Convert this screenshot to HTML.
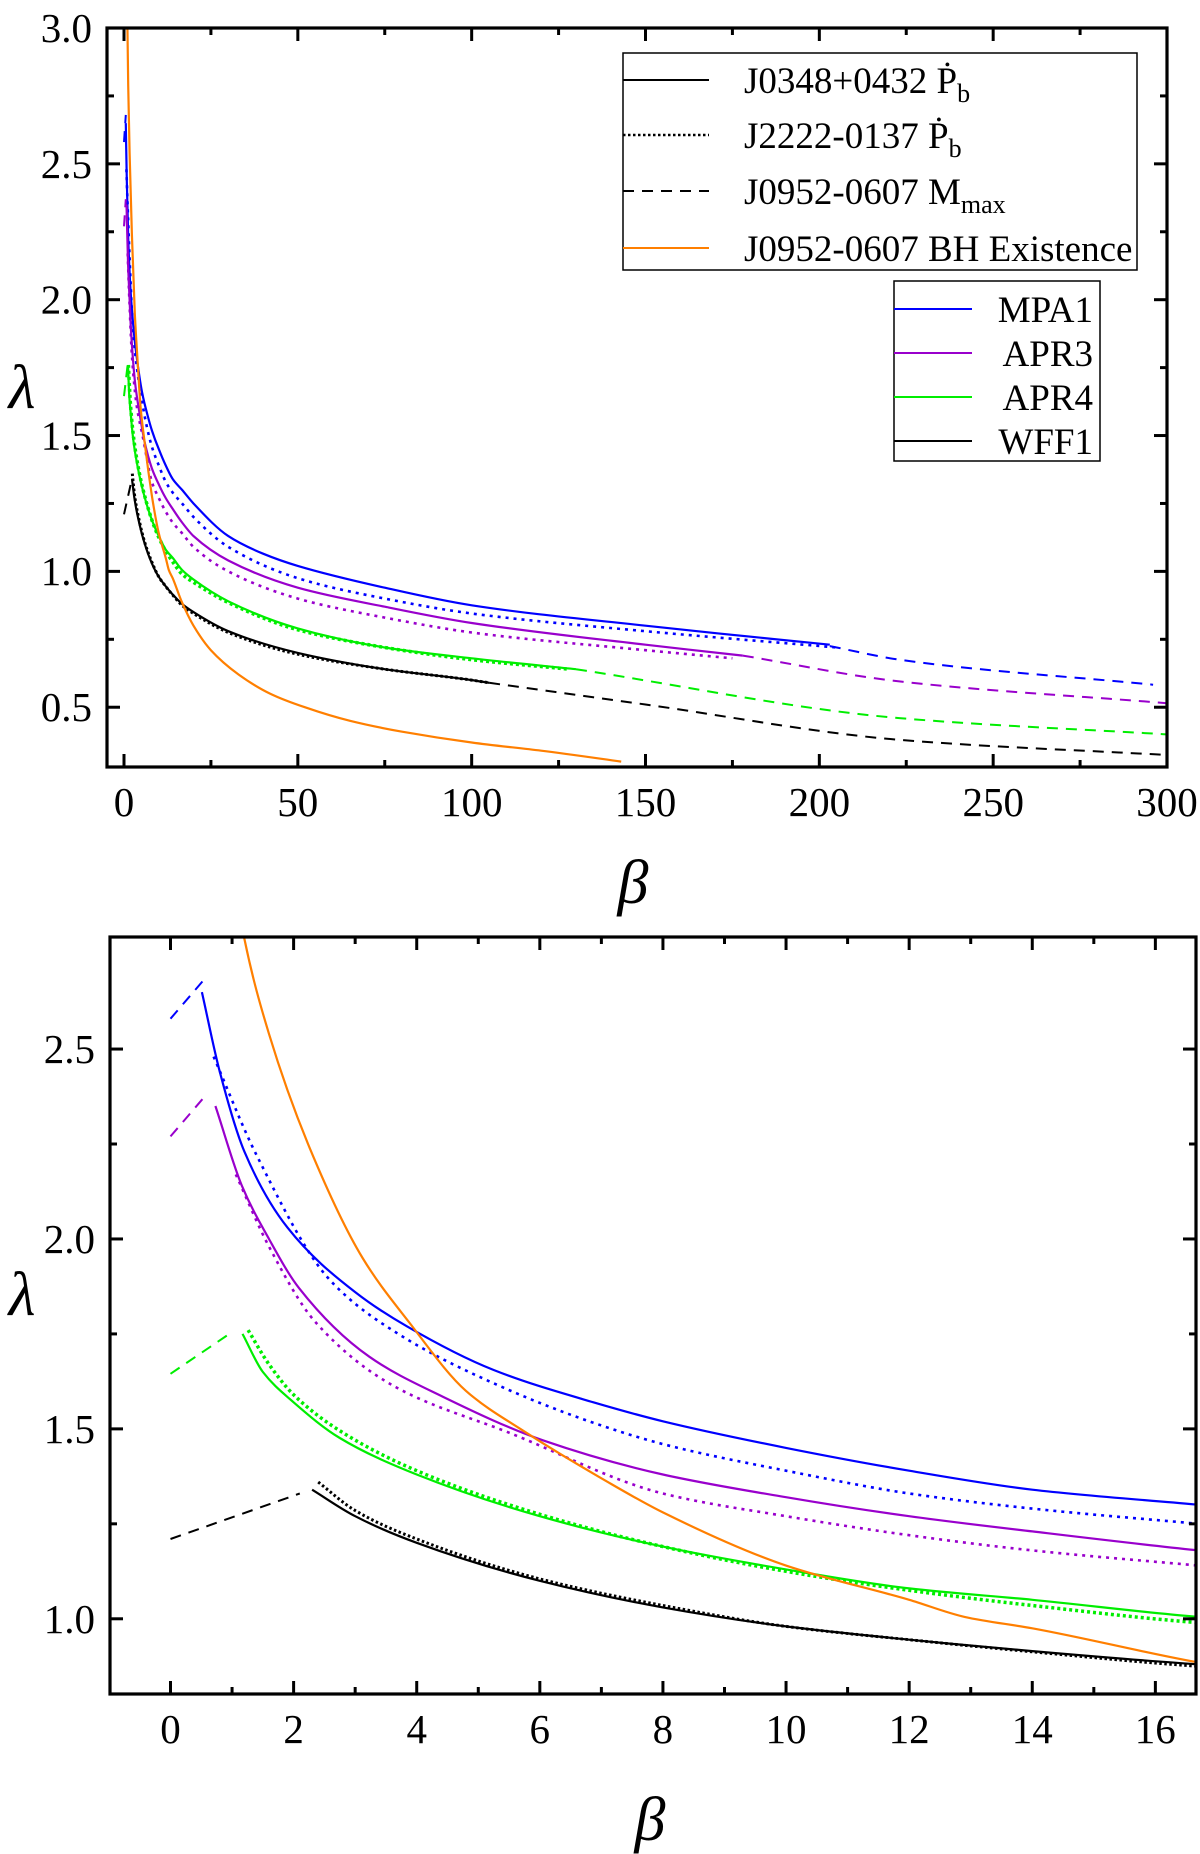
<!DOCTYPE html>
<html><head><meta charset="utf-8">
<style>
html,body{margin:0;padding:0;background:#fff;}
svg{display:block;}
svg text{font-family:"Liberation Serif","Times New Roman",serif !important;}
</style></head>
<body>
<svg id="fig" width="1200" height="1854" viewBox="0 0 1200 1854" xmlns="http://www.w3.org/2000/svg">
<defs>
<clipPath id="clipTop"><rect x="107" y="28" width="1060" height="739"/></clipPath>
<clipPath id="clipBot"><rect x="110" y="937" width="1086" height="757"/></clipPath>
</defs>
<g id="topPlot"></g>
<g id="botPlot"></g>

<g style="font-family:'Liberation Serif',serif" font-size="41" fill="#000">
<g text-anchor="middle">
<text x="124" y="816">0</text>
<text x="297.8" y="816">50</text>
<text x="471.7" y="816">100</text>
<text x="645.5" y="816">150</text>
<text x="819.4" y="816">200</text>
<text x="993.2" y="816">250</text>
<text x="1167" y="816">300</text>
<text x="170.5" y="1743">0</text>
<text x="293.6" y="1743">2</text>
<text x="416.7" y="1743">4</text>
<text x="539.8" y="1743">6</text>
<text x="662.9" y="1743">8</text>
<text x="786" y="1743">10</text>
<text x="909.1" y="1743">12</text>
<text x="1032.2" y="1743">14</text>
<text x="1155.3" y="1743">16</text>
</g>
<g text-anchor="end">
<text x="92" y="721">0.5</text>
<text x="92" y="585">1.0</text>
<text x="92" y="449.5">1.5</text>
<text x="92" y="313.7">2.0</text>
<text x="92" y="177.8">2.5</text>
<text x="92" y="42">3.0</text>
<text x="95" y="1633">1.0</text>
<text x="95" y="1443">1.5</text>
<text x="95" y="1253">2.0</text>
<text x="95" y="1063">2.5</text>
</g>
<g font-size="62" font-style="italic" text-anchor="middle">
<text x="633" y="903">β</text>
<text x="22" y="408">λ</text>
<text x="650" y="1840">β</text>
<text x="22" y="1315">λ</text>
</g>
</g>

<g>
<rect x="623" y="53" width="514" height="217" fill="#fff" stroke="#000" stroke-width="1.5"/>
<line x1="623" y1="80" x2="709" y2="80" stroke="#000" stroke-width="2"/>
<line x1="623" y1="135" x2="709" y2="135" stroke="#000" stroke-width="2.5" stroke-dasharray="2.5,2.5"/>
<line x1="623" y1="191" x2="709" y2="191" stroke="#000" stroke-width="2" stroke-dasharray="11,8"/>
<line x1="623" y1="248" x2="709" y2="248" stroke="#ff7f00" stroke-width="2"/>
<g font-size="37" fill="#000" style="font-family:'Liberation Serif',serif">
<text x="744" y="93">J0348+0432 Ṗ<tspan font-size="26" dy="9">b</tspan></text>
<text x="744" y="148">J2222-0137 Ṗ<tspan font-size="26" dy="9">b</tspan></text>
<text x="744" y="204">J0952-0607 M<tspan font-size="26" dy="9">max</tspan></text>
<text x="744" y="261">J0952-0607 BH Existence</text>
</g>
</g>
<g>
<rect x="894" y="281" width="206" height="180" fill="#fff" stroke="#000" stroke-width="1.5"/>
<line x1="894" y1="309" x2="972" y2="309" stroke="#0000ff" stroke-width="2"/>
<line x1="894" y1="353" x2="972" y2="353" stroke="#9900cc" stroke-width="2"/>
<line x1="894" y1="397" x2="972" y2="397" stroke="#00ee00" stroke-width="2"/>
<line x1="894" y1="441" x2="972" y2="441" stroke="#000" stroke-width="2"/>
<g font-size="37" fill="#000" text-anchor="end" style="font-family:'Liberation Serif',serif">
<text x="1093" y="322">MPA1</text>
<text x="1093" y="366">APR3</text>
<text x="1093" y="410">APR4</text>
<text x="1093" y="454">WFF1</text>
</g>
</g>
</svg>
<script>
// ---- data (beta, lambda) ----
const mpa1SolidB = [0.51,0.8,1.2,1.9,3,3.84,5.25,6.87,8,10,12,14,16.7,20,30,40,50,75,100,150,203];
const mpa1SolidL = [2.65,2.44,2.23,2.03,1.86,1.77,1.655,1.57,1.52,1.45,1.39,1.34,1.30,1.25,1.13,1.065,1.02,0.94,0.875,0.80,0.73];
const mpa1DotB = [0.7,1.4,2.6,3.7,5.25,6.8,8,10,12,14,16.7,20,30,50,75,100,150,205];
const mpa1DotL = [2.48,2.22,1.89,1.75,1.62,1.52,1.46,1.39,1.33,1.29,1.25,1.20,1.09,0.975,0.90,0.845,0.78,0.72];
const mpa1DashLoB = [0,0.53];
const mpa1DashLoL = [2.58,2.68];
const mpa1DashHiB = [203,223,296];
const mpa1DashHiL = [0.725,0.675,0.583];

const apr3SolidB = [0.73,1.16,1.6,2.09,3.23,4.42,6.05,8,10,12,14,16.7,20,30,50,75,100,150,178];
const apr3SolidL = [2.35,2.14,2.0,1.87,1.69,1.585,1.47,1.38,1.32,1.27,1.23,1.18,1.13,1.04,0.94,0.87,0.81,0.73,0.69];
const apr3DotB = [1.06,1.6,2.36,3.66,5.5,8,10,12,14,16.7,20,30,50,75,100,150,175];
const apr3DotL = [2.17,1.98,1.78,1.61,1.49,1.33,1.27,1.22,1.18,1.14,1.09,1.0,0.90,0.83,0.775,0.71,0.68];
const apr3DashLoB = [0,0.53];
const apr3DashLoL = [2.27,2.37];
const apr3DashHiB = [178,223,300];
const apr3DashHiL = [0.69,0.595,0.515];

const apr4SolidB = [1.17,1.5,2,2.75,4,6,8,10,12,14,16.7,20,30,50,75,100,130];
const apr4SolidL = [1.75,1.65,1.57,1.476,1.38,1.27,1.19,1.13,1.08,1.05,1.005,0.97,0.89,0.79,0.72,0.68,0.64];
const apr4DotB = [1.26,1.6,2,2.8,4,6,8,10,12,14,16.7,20,30,50,75,100,128];
const apr4DotL = [1.76,1.67,1.59,1.49,1.39,1.275,1.19,1.125,1.075,1.035,0.99,0.96,0.885,0.785,0.72,0.675,0.64];
const apr4DashLoB = [0,1.01];
const apr4DashLoL = [1.645,1.756];
const apr4DashHiB = [130,223,300];
const apr4DashHiL = [0.64,0.46,0.40];

const wff1SolidB = [2.3,3,4,6,8,10,12,14,16.7,20,30,50,75,100,105];
const wff1SolidL = [1.34,1.27,1.20,1.10,1.03,0.98,0.945,0.915,0.88,0.85,0.78,0.70,0.64,0.60,0.59];
const wff1DotB = [2.4,3,4,6,8,10,12,14,16.7,20,30,50,75,100,105];
const wff1DotL = [1.36,1.285,1.21,1.105,1.035,0.98,0.945,0.913,0.875,0.845,0.775,0.695,0.64,0.60,0.59];
const wff1DashLoB = [0,2.1];
const wff1DashLoL = [1.21,1.33];
const wff1DashHiB = [105,150,223,300];
const wff1DashHiL = [0.59,0.51,0.38,0.324];

const bhB = [0.9,1.2,1.6,2.26,3.12,3.88,4.8,5.78,7,8,10,12,12.9,14,16.7,20,25,33,42,52,65,80,100,120,143];
const bhL = [3.1,2.79,2.54,2.24,1.95,1.78,1.60,1.49,1.37,1.28,1.14,1.05,1.005,0.975,0.885,0.80,0.71,0.62,0.55,0.50,0.45,0.41,0.37,0.34,0.30];

const topXTicks = [0,50,100,150,200,250,300];
const topYTicks = [0.5,1.0,1.5,2.0,2.5,3.0];
const botXTicks = [0,2,4,6,8,10,12,14,16];
const botYTicks = [1.0,1.5,2.0,2.5];

const NS = "http://www.w3.org/2000/svg";
function mk(tag, attrs, parent){
  const e = document.createElementNS(NS, tag);
  for (const k in attrs) e.setAttribute(k, attrs[k]);
  parent.appendChild(e);
  return e;
}
function monoPath(pts){
  const n = pts.length;
  let d = "M"+pts[0][0].toFixed(1)+","+pts[0][1].toFixed(1);
  if (n < 3){ for (let i=1;i<n;i++) d += " L"+pts[i][0].toFixed(1)+","+pts[i][1].toFixed(1); return d; }
  const dx=[], sl=[], m=[];
  for (let i=0;i<n-1;i++){ dx[i]=pts[i+1][0]-pts[i][0]; sl[i]=(pts[i+1][1]-pts[i][1])/dx[i]; }
  m[0]=sl[0]; m[n-1]=sl[n-2];
  for (let i=1;i<n-1;i++){
    if (sl[i-1]*sl[i] <= 0) m[i]=0;
    else { const w1=2*dx[i]+dx[i-1], w2=dx[i]+2*dx[i-1]; m[i]=(w1+w2)/(w1/sl[i-1]+w2/sl[i]); }
  }
  for (let i=0;i<n-1;i++){
    const h=dx[i];
    const c1=[pts[i][0]+h/3, pts[i][1]+m[i]*h/3];
    const c2=[pts[i+1][0]-h/3, pts[i+1][1]-m[i+1]*h/3];
    d += " C"+c1[0].toFixed(1)+","+c1[1].toFixed(1)+" "+c2[0].toFixed(1)+","+c2[1].toFixed(1)+" "+pts[i+1][0].toFixed(1)+","+pts[i+1][1].toFixed(1);
  }
  return d;
}
function chart(gid, cfg){
  const g = document.getElementById(gid);
  const sx = v => cfg.l + (v - cfg.x0) / (cfg.x1 - cfg.x0) * (cfg.r - cfg.l);
  const sy = v => cfg.b - (v - cfg.y0) / (cfg.y1 - cfg.y0) * (cfg.b - cfg.t);
  const series = [
    [mpa1SolidB,mpa1SolidL,"#0000ff","",2.2,"mpa1-j0348"],
    [mpa1DotB,mpa1DotL,"#0000ff","3,5",2.6,"mpa1-j2222"],
    [mpa1DashLoB,mpa1DashLoL,"#0000ff","11,8",2,"mpa1-mmax-low"],
    [mpa1DashHiB,mpa1DashHiL,"#0000ff","11,8",2,"mpa1-mmax-high"],
    [apr3SolidB,apr3SolidL,"#9900cc","",2.2,"apr3-j0348"],
    [apr3DotB,apr3DotL,"#9900cc","3,5",2.6,"apr3-j2222"],
    [apr3DashLoB,apr3DashLoL,"#9900cc","11,8",2,"apr3-mmax-low"],
    [apr3DashHiB,apr3DashHiL,"#9900cc","11,8",2,"apr3-mmax-high"],
    [apr4DotB,apr4DotL,"#00ee00","3,3",3.5,"apr4-j2222"],
    [apr4SolidB,apr4SolidL,"#00ee00","",2.2,"apr4-j0348"],
    [apr4DashLoB,apr4DashLoL,"#00ee00","11,8",2,"apr4-mmax-low"],
    [apr4DashHiB,apr4DashHiL,"#00ee00","11,8",2,"apr4-mmax-high"],
    [wff1DotB,wff1DotL,"#000","2.5,2.5",3,"wff1-j2222"],
    [wff1SolidB,wff1SolidL,"#000","",2.2,"wff1-j0348"],
    [wff1DashLoB,wff1DashLoL,"#000","11,8",2,"wff1-mmax-low"],
    [wff1DashHiB,wff1DashHiL,"#000","11,8",2,"wff1-mmax-high"],
    [bhB,bhL,"#ff7f00","",2.2,"bh-existence"]
  ];
  const lines = mk("g",{"clip-path":"url(#"+cfg.clip+")"},g);
  for (const s of series){
    const pts = s[0].map((b,i)=>[sx(b), sy(s[1][i])]);
    const p = mk("path",{d:monoPath(pts),fill:"none",stroke:s[2],"stroke-width":s[4],"stroke-linejoin":"round"},lines);
    if (s[3]) p.setAttribute("stroke-dasharray", s[3]);
    
    
  }
  const fr = mk("rect",{x:cfg.l,y:cfg.t,width:cfg.r-cfg.l,height:cfg.b-cfg.t,fill:"none",stroke:"#000","stroke-width":3.2},g);
  
  
  const xt = mk("g",{stroke:"#000","stroke-width":3},g);
  
  
  for (let i=0;i<cfg.xt.length;i++){
    const v = cfg.xt[i], X = sx(v);
    mk("line",{x1:X,y1:cfg.b,x2:X,y2:cfg.b-13},xt);
    mk("line",{x1:X,y1:cfg.t,x2:X,y2:cfg.t+13},xt);
    const mv = v + cfg.xm;
    if (mv < cfg.x1){ const M = sx(mv);
      mk("line",{x1:M,y1:cfg.b,x2:M,y2:cfg.b-7},xt);
      mk("line",{x1:M,y1:cfg.t,x2:M,y2:cfg.t+7},xt); }
  }
  for (let i=0;i<cfg.yt.length;i++){
    const v = cfg.yt[i], Y = sy(v);
    mk("line",{x1:cfg.l,y1:Y,x2:cfg.l+13,y2:Y},xt);
    mk("line",{x1:cfg.r,y1:Y,x2:cfg.r-13,y2:Y},xt);
    const mv = v - cfg.ym;
    if (mv > cfg.y0){ const M = sy(mv);
      mk("line",{x1:cfg.l,y1:M,x2:cfg.l+7,y2:M},xt);
      mk("line",{x1:cfg.r,y1:M,x2:cfg.r-7,y2:M},xt); }
  }
}
chart("topPlot",{l:107,r:1167,t:28,b:767,x0:-4.89,x1:300,y0:0.28,y1:3.0,clip:"clipTop",
  xt:topXTicks,xm:25,yt:topYTicks,ym:0.25});
chart("botPlot",{l:110,r:1196,t:937,b:1694,x0:-0.983,x1:16.66,y0:0.802,y1:2.795,clip:"clipBot",
  xt:botXTicks,xm:1,yt:botYTicks,ym:0.25});
</script>
</body></html>
